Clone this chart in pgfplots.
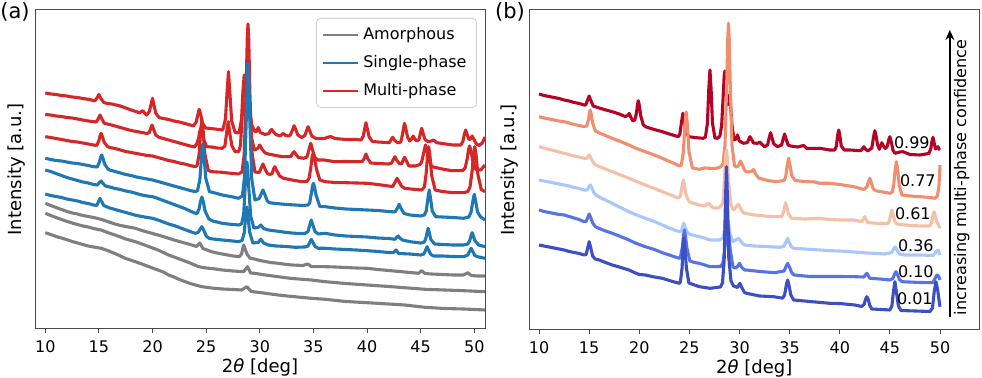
\documentclass[border=0pt]{standalone}
\usepackage{fontspec}
\setmainfont{DejaVu Sans}
\usepackage{pgfplots}
\pgfplotsset{compat=1.18}
\usetikzlibrary{arrows.meta}
\definecolor{cgray}{HTML}{7F7F7F}
\definecolor{cblue}{HTML}{1F77B4}
\definecolor{cred}{HTML}{D62728}
\definecolor{cwA}{RGB}{180,4,38}
\definecolor{cwB}{RGB}{240,142,112}
\definecolor{cwC}{RGB}{245,192,168}
\definecolor{cwD}{RGB}{170,199,253}
\definecolor{cwE}{RGB}{88,116,228}
\definecolor{cwF}{RGB}{61,80,195}
\pgfplotsset{
  xrdax/.style={
    scale only axis, width=225pt, ymin=0,
    ytick=\empty, xtick={10,15,...,50},
    tick align=outside, xtick pos=bottom, major tick length=2.2pt,
    axis line style={line width=0.5pt, color=black!70},
    every tick/.style={black!70, line width=0.5pt},
    /pgf/number format/assume math mode=true,
    tick label style={font=\fontsize{8}{9}\selectfont},
    label style={font=\fontsize{9}{10}\selectfont},
    xlabel={2\textit{θ} [deg]}, ylabel={Intensity [a.u.]},
    xlabel style={at={(axis description cs:0.5,0)}, anchor=center, yshift=-19pt},
    every axis plot/.append style={line width=1.55pt, line join=round, forget plot},
  }
}
\begin{document}
\begin{tikzpicture}[x=1pt,y=1pt]
\path[use as bounding box] (0,0) rectangle (491,189);
\node[font=\fontsize{10.5}{12}\selectfont] at (7.5,183) {(a)};
\node[font=\fontsize{10.5}{12}\selectfont] at (255,183) {(b)};
\begin{axis}[xrdax, at={(17.5pt,24.5pt)}, anchor=south west, height=159.5pt,
  xmin=9.04, xmax=51.0, ymax=319,
  ylabel style={at={(axis description cs:-0.041,0.5)}, anchor=center},
  legend style={at={(0.982,0.975)}, anchor=north east, draw=black!18, rounded corners=2pt,
    fill=white, font=\fontsize{8}{9}\selectfont, inner xsep=3pt, inner ysep=2.5pt, row sep=2.4pt},
  legend cell align=left,
  legend image code/.code={\draw[#1] (0pt,0pt) -- (17.5pt,0pt);}]
\addlegendimage{cgray, line width=0.9pt}
\addlegendentry{Amorphous}
\addlegendimage{cblue, line width=0.9pt}
\addlegendentry{Single-phase}
\addlegendimage{cred, line width=0.9pt}
\addlegendentry{Multi-phase}
% R1
\addplot[cred] coordinates {(10.0,236) (10.5,235) (11.0,234.5) (11.5,233.5) (12.0,233) (12.5,232) (13.0,231.5) (13.5,230.5) (14.0,229.7) (14.5,228.5) (14.6,228) (14.85,231.5) (15.0,234.5) (15.15,231) (15.45,226.5) (15.8,225.5) (16.2,225) (16.6,224) (17.0,223) (17.5,221) (18.0,219) (18.5,217.3) (18.8,216) (18.95,217.5) (19.1,218.3) (19.25,216) (19.45,214) (19.7,217.5) (19.87,225) (20.0,230.7) (20.13,224) (20.3,216) (20.6,211.5) (21.0,210.5) (21.5,209.5) (22.0,208) (22.5,207) (23.0,205.5) (23.5,204) (23.8,203) (24.05,206.5) (24.22,214) (24.35,219.7) (24.48,215) (24.65,206) (24.95,201) (25.3,200.6) (25.8,200) (26.3,199.3) (26.55,199) (26.8,210) (26.95,237) (27.08,257.3) (27.21,236) (27.38,208) (27.7,196.5) (28.0,196) (28.1,198) (28.3,210) (28.43,238) (28.55,254) (28.68,240) (28.78,228) (28.95,229) (29.08,218) (29.25,204) (29.55,197.5) (29.7,197.5) (29.85,201.5) (30.05,196.5) (30.5,194.5) (30.85,195.5) (31.0,198.5) (31.1,199.5) (31.25,197.5) (31.5,194.5) (31.9,193) (32.05,194.5) (32.2,195.5) (32.4,193.5) (32.7,193) (32.85,194) (33.05,199) (33.2,203.3) (33.35,199.5) (33.55,194) (33.9,191.5) (34.2,193.5) (34.37,198.5) (34.5,202.3) (34.63,199) (34.85,193) (35.2,190.7) (36.0,190.5) (36.6,192.5) (37.0,190.5) (38.0,189.5) (39.0,189.5) (39.45,189) (39.65,193) (39.78,200) (39.9,206.3) (40.03,200) (40.2,192) (40.5,187.5) (41.0,187) (41.8,186.5) (42.1,186.5) (42.25,189.5) (42.4,191.7) (42.55,189) (42.8,186.5) (43.0,186.3) (43.15,187) (43.3,194) (43.4,201) (43.5,205.7) (43.62,200) (43.78,192) (43.98,188) (44.15,190) (44.3,193) (44.45,190) (44.65,188) (44.85,189.5) (44.98,196) (45.1,200.7) (45.22,196) (45.4,189.5) (45.7,187.3) (46.0,188) (46.2,189) (46.5,186.3) (47.0,185.5) (48.0,184) (48.75,184) (48.95,188) (49.08,195) (49.2,199) (49.32,195) (49.5,189.5) (49.65,190) (49.8,193) (49.95,190) (50.2,185) (50.45,183.5) (50.75,186) (51.0,192)};
% R2
\addplot[cred] coordinates {(10.0,214.5) (10.5,214) (11.0,213) (11.5,212.5) (12.0,211.5) (12.5,211) (13.0,210) (13.5,209) (14.0,208) (14.5,207.3) (14.75,207) (14.95,210.5) (15.1,214) (15.25,210.5) (15.5,205.7) (16.0,204.5) (16.5,203) (17.0,201.5) (17.5,200) (18.0,198.5) (18.5,197.5) (19.0,196.5) (19.5,195.5) (19.7,196.5) (19.83,200.5) (19.95,204) (20.08,200) (20.3,194) (20.6,191.7) (21.0,190.5) (21.5,189) (22.0,187.5) (22.5,186) (23.0,184.5) (23.5,183) (23.9,182) (24.1,184.5) (24.3,191) (24.4,197.5) (24.5,200.7) (24.62,197) (24.78,189) (25.05,182.3) (25.5,182) (26.0,181) (26.5,180.7) (26.75,183) (26.92,197) (27.06,207.3) (27.2,196) (27.4,183) (27.7,177.3) (28.05,177.5) (28.2,184) (28.37,215) (28.5,240) (28.58,244) (28.68,236) (28.78,246) (28.85,254) (28.95,240) (29.08,212) (29.25,190) (29.5,179) (29.8,180.5) (30.0,184) (30.2,180) (30.5,176) (30.8,175) (31.5,173.5) (32.1,172.3) (32.9,172.5) (33.05,175.5) (33.2,177.3) (33.35,175) (33.6,171.5) (34.1,170.7) (34.4,172) (34.6,180) (34.75,185.7) (34.9,180) (35.1,172) (35.4,169) (36.0,169) (37.0,167.3) (38.0,167.5) (39.0,167.3) (39.55,167.5) (39.72,170) (39.9,175) (40.08,170) (40.35,166) (41.0,165.5) (42.0,165) (42.3,166) (42.45,169.5) (42.6,172.3) (42.75,169) (43.05,165) (43.25,165.5) (43.37,169) (43.5,171.7) (43.65,168.5) (43.9,163) (44.5,163) (44.95,164.5) (45.12,168) (45.3,177) (45.45,184) (45.6,177.5) (45.78,168) (46.05,162.3) (47.0,160) (47.9,158.3) (48.9,158.3) (49.15,161) (49.35,171) (49.47,179.5) (49.57,183) (49.7,178) (49.85,168.5) (50.15,159.5) (50.6,159) (51.0,164)};
% R3
\addplot[cred] coordinates {(10.0,192.3) (10.5,191.5) (11.0,190.5) (11.5,189.5) (12.0,188.5) (12.5,187.5) (13.0,187) (13.5,186) (14.0,185) (14.5,184) (14.8,183.5) (15.0,188.5) (15.1,193) (15.2,195.7) (15.32,192.5) (15.5,186.5) (15.8,182.5) (16.0,181.5) (16.5,180.5) (17.0,179) (17.5,177.5) (18.0,176.5) (18.5,175.5) (19.0,174.5) (19.5,173.5) (20.0,173) (20.5,171.5) (21.0,170) (21.5,168.5) (22.0,167.5) (22.5,166) (23.0,165) (23.5,163.5) (24.0,162.3) (24.15,163.5) (24.35,175) (24.48,198) (24.6,209) (24.72,198) (24.88,175) (25.2,158.5) (25.5,157.3) (26.0,157) (26.5,156.7) (27.0,156) (27.5,155.5) (28.0,155) (28.35,157) (28.55,175) (28.72,235) (28.83,290) (28.9,305) (28.97,290) (29.08,235) (29.25,178) (29.55,157) (29.95,156.5) (30.15,161.5) (30.3,165) (30.45,161) (30.7,155.5) (30.95,154.5) (31.15,155.5) (31.28,160) (31.4,162.3) (31.55,159) (31.85,153) (32.2,150.7) (33.0,149) (33.9,147.3) (34.4,147.5) (34.6,151) (34.78,163) (34.88,172) (34.98,175.7) (35.1,171) (35.28,160) (35.6,149) (36.1,147.3) (37.0,146.5) (38.0,146.3) (39.0,146) (40.0,145.7) (41.0,144.5) (42.0,143) (42.4,142.5) (42.6,146.5) (42.8,150.7) (42.95,148) (43.2,143) (43.5,140.7) (44.5,139.5) (45.1,139) (45.35,142) (45.52,156) (45.65,175) (45.75,182.3) (45.86,174) (46.02,154) (46.35,139) (47.0,137.5) (48.0,136.3) (49.0,136.3) (49.4,137.5) (49.6,142) (49.8,158) (49.93,175) (50.05,182.3) (50.17,174) (50.33,155) (50.65,139.5) (51.0,137.3)};
% B1
\addplot[cblue] coordinates {(10.0,170.7) (10.5,169.5) (11.0,168.5) (11.5,168) (12.0,167) (12.5,166) (13.0,165.5) (13.5,164.5) (14.0,163.5) (14.5,162.3) (14.85,162) (15.05,167) (15.15,171.5) (15.26,174) (15.38,170.5) (15.55,164.5) (15.85,160) (16.0,159) (16.5,157.5) (17.0,156) (17.5,154.5) (18.0,153.5) (18.5,152) (19.0,151) (19.5,150) (20.0,149) (20.5,147.5) (21.0,146) (21.5,144.5) (22.0,143) (22.5,141.5) (23.0,140) (23.5,138.5) (24.0,137.3) (24.2,138.5) (24.42,150) (24.56,172) (24.68,185) (24.8,173) (24.96,151) (25.3,137.5) (26.0,135.5) (26.5,134) (27.0,133) (27.5,132) (28.0,130.7) (28.38,133) (28.58,152) (28.74,210) (28.84,255) (28.9,266) (28.97,252) (29.08,205) (29.25,150) (29.55,129) (29.95,130.5) (30.15,135.5) (30.3,139) (30.45,135) (30.7,128) (30.9,126.3) (31.5,125.5) (32.5,124.5) (33.3,124) (34.0,123.5) (34.5,124) (34.65,126) (34.83,137) (34.92,143) (35.0,145.7) (35.1,142) (35.27,133) (35.6,122.5) (36.1,122.3) (37.0,121) (38.0,120) (39.0,119.5) (40.0,119) (41.0,118.5) (42.0,117.5) (42.6,117) (42.82,120.5) (43.0,124.7) (43.17,120.5) (43.45,115.5) (44.0,114) (45.0,113) (45.35,114) (45.52,118) (45.68,131) (45.8,139) (45.92,131) (46.08,118) (46.4,112.3) (47.0,112) (48.0,111.5) (49.0,110.7) (49.5,112) (49.7,117) (49.87,128) (50.0,134.7) (50.13,128) (50.3,117) (50.6,112) (51.0,109)};
% B2
\addplot[cblue] coordinates {(10.0,159) (10.5,157.5) (11.0,155.5) (11.5,153.5) (12.0,151.5) (12.5,150) (13.0,148.5) (13.5,147) (14.0,146) (14.5,144.5) (14.85,144) (15.05,146.5) (15.2,148) (15.35,146) (15.6,143) (16.0,142) (16.5,140.5) (17.0,139.5) (17.5,138) (18.0,137) (18.5,135.5) (19.0,134) (19.5,133) (20.0,132.3) (20.5,130.5) (21.0,128.5) (21.5,126.5) (22.0,124.5) (22.5,122.5) (23.0,120.5) (23.5,118) (24.0,115.7) (24.15,115.5) (24.35,120.5) (24.48,128) (24.6,132) (24.72,128) (24.9,118) (25.25,110) (25.6,108) (26.0,107) (26.5,105.7) (27.0,105) (27.5,104.5) (28.0,104) (28.3,105) (28.5,115) (28.65,145) (28.74,162) (28.8,167) (28.87,160) (28.98,140) (29.15,113) (29.45,101) (29.85,101.5) (30.1,104) (30.35,100.5) (30.8,99) (31.5,98) (32.5,96.5) (33.3,95.7) (34.2,95.5) (34.5,97.5) (34.67,104.5) (34.8,109) (34.93,104.5) (35.15,97.5) (35.45,95) (36.1,95.7) (37.0,94) (38.0,93) (39.0,92.5) (40.0,92) (41.0,91) (42.0,90.5) (42.6,89.7) (42.75,91.5) (42.9,93) (43.05,91) (43.3,89) (44.0,87.3) (45.0,86) (45.3,86.5) (45.47,90) (45.6,96.5) (45.7,100.7) (45.8,96.5) (45.95,89.5) (46.3,85) (47.0,84.5) (48.0,84) (49.0,84) (49.4,85) (49.58,88.5) (49.7,93.5) (49.8,96.3) (49.9,93.5) (50.05,88.5) (50.4,84) (51.0,82.3)};
% B3
\addplot[cblue] coordinates {(10.0,135) (10.5,133.5) (11.0,132.5) (11.5,131.5) (12.0,130) (12.5,129) (13.0,128) (13.5,126.5) (14.0,125.5) (14.5,124) (14.8,123.5) (14.97,127.5) (15.1,130.7) (15.23,128) (15.45,123.5) (15.7,122.3) (16.0,121) (16.5,119.5) (17.0,118) (17.5,116.5) (18.0,115) (18.5,113.5) (19.0,112.5) (19.5,111.5) (20.0,110.7) (20.5,109) (21.0,107) (21.5,105) (22.0,103.5) (22.5,101.5) (23.0,99.5) (23.5,97.5) (24.0,95.7) (24.25,96.5) (24.45,100) (24.6,102.3) (24.75,99.5) (25.0,93) (25.3,90.5) (26.0,89.5) (26.5,89) (27.0,88.5) (27.5,88) (28.0,87.3) (28.35,88.5) (28.55,96) (28.68,112) (28.8,122) (28.9,113) (29.05,97) (29.35,86) (29.85,86.5) (30.1,89.7) (30.35,86) (30.8,84) (31.5,83) (32.5,82.5) (33.3,81.7) (34.2,82) (34.5,83) (34.67,87) (34.8,89.7) (34.93,87) (35.15,82.5) (35.45,80.7) (36.1,80.7) (37.0,80) (38.0,79.5) (39.0,79) (40.0,78.3) (41.0,77.5) (42.0,76.5) (42.45,76.3) (42.7,79) (42.95,75.5) (44.0,75) (45.0,74) (45.3,75) (45.47,79) (45.6,82.3) (45.73,79) (45.95,74.5) (46.2,73) (47.0,73) (48.0,72.5) (49.0,72.3) (49.4,74) (49.57,78) (49.7,80.7) (49.83,78) (50.05,73.5) (50.3,72.3) (51.0,70.7)};
% G1
\addplot[cgray] coordinates {(10.0,125.7) (10.5,123.5) (11.0,121.5) (11.5,119.5) (12.1,117.3) (12.5,116) (13.0,115) (13.5,113.5) (14.0,112.5) (14.5,111.5) (15.2,109.7) (15.8,107.5) (16.5,105) (17.0,103.5) (17.5,102.5) (18.4,100.7) (19.0,98.5) (19.5,97) (20.0,95.5) (20.5,94) (21.0,92.5) (21.5,90.7) (22.0,89) (22.5,87.5) (23.0,86) (23.5,84.5) (24.1,82.5) (24.4,86) (24.7,80.5) (25.5,77.3) (26.0,76) (26.5,75) (27.0,74) (27.5,73) (28.1,72.3) (28.3,75) (28.42,81) (28.5,84) (28.6,81) (28.8,75) (29.1,70.7) (29.5,70) (30.0,68.5) (30.5,67.5) (31.0,66.5) (31.7,65.7) (32.5,64.5) (33.0,64) (34.0,63.5) (34.5,65) (34.8,62.3) (36.1,62.3) (37.0,62) (38.0,61.5) (39.0,61) (40.0,60.7) (41.0,59.5) (42.0,58.5) (43.0,57.5) (44.0,56.5) (44.8,55.7) (45.1,58.3) (45.4,55.5) (46.0,55) (47.0,54.5) (48.0,54) (49.0,54) (49.4,56.3) (49.7,53.5) (50.3,53) (51.0,53)};
% G2
\addplot[cgray] coordinates {(10.0,115.7) (10.5,113.5) (11.0,111.5) (11.5,109.5) (12.1,107.3) (12.5,106) (13.0,104.5) (13.5,103) (14.0,102) (14.5,100.5) (15.2,99) (15.8,96.5) (16.5,94) (17.0,92) (17.5,90) (18.4,87.3) (19.0,85) (19.5,83) (20.0,81) (20.5,79) (21.0,76.5) (21.5,74) (22.0,72) (22.5,70) (23.0,68) (23.5,66) (24.3,62.3) (25.0,61) (25.5,60.5) (26.5,59) (27.5,58) (28.5,57.3) (28.85,62.3) (29.15,56) (29.5,55.7) (30.5,54) (31.7,52.3) (33.0,50.5) (34.8,49) (36.1,47.3) (38.0,45.5) (40.0,44) (42.0,42.5) (43.5,41.3) (45.4,39.7) (47.2,39) (49.0,38.3) (51.0,37.3)};
% G3
\addplot[cgray] coordinates {(10.0,96.3) (10.5,94.5) (11.0,92.5) (11.5,91) (12.1,89) (12.5,87.5) (13.0,86) (13.5,84.5) (14.0,83) (14.5,82) (15.2,80.7) (15.8,78.5) (16.5,75.5) (17.0,73) (17.5,70.5) (18.4,67.3) (19.0,65) (19.5,63) (20.0,61) (20.5,59) (21.0,57) (21.5,54) (22.0,52) (22.5,49.5) (23.0,47.5) (23.5,45.5) (24.0,44) (24.6,42.3) (25.5,41) (26.5,40) (27.5,39.5) (28.3,39) (28.8,42.3) (29.2,37.5) (30.0,36.5) (31.7,34) (33.0,32.5) (34.8,30.7) (36.1,29.7) (38.0,27.5) (40.0,26.3) (42.0,25) (43.5,24) (45.4,21.7) (47.2,20.5) (49.0,20) (51.0,19)};
\end{axis}

\begin{axis}[xrdax, at={(264.65pt,24pt)}, anchor=south west, height=160pt,
  xmin=9.03, xmax=53.92, ymax=320,
  ylabel style={at={(axis description cs:-0.043,0.5)}, anchor=center}]
% 0.99
\addplot[cwA] coordinates {(10.0,236) (10.5,234.5) (11.0,233.5) (11.5,232.5) (12.0,231.5) (12.5,230) (13.0,229) (13.5,227.5) (14.0,226.5) (14.5,225) (14.65,225) (14.85,230) (15.0,234) (15.15,230) (15.4,224) (15.7,223) (16.0,222) (16.5,220.5) (17.3,218.3) (18.0,216) (18.6,213.5) (18.85,214.5) (19.0,216.5) (19.15,213) (19.35,209) (19.55,210) (19.72,217) (19.82,225) (19.9,229.3) (20.0,225) (20.15,214) (20.4,205) (20.7,203) (21.0,202) (21.5,200.5) (22.3,198.3) (23.0,196) (23.5,194.5) (23.9,193.3) (24.05,196) (24.2,207) (24.35,216.7) (24.48,210) (24.65,198) (24.95,193.3) (25.5,192.5) (26.0,192) (26.4,191.7) (26.6,193) (26.8,207) (26.93,240) (27.05,260) (27.17,240) (27.3,207) (27.55,192) (27.8,191.7) (28.05,194) (28.22,205) (28.38,235) (28.47,254) (28.54,259) (28.63,252) (28.77,225) (28.88,228) (29.0,235) (29.1,225) (29.25,205) (29.45,190) (29.65,191) (29.8,195) (29.98,189) (30.4,186.7) (30.8,187.5) (30.93,191) (31.04,193.3) (31.17,191) (31.4,187) (31.7,186.7) (31.9,187) (32.0,188) (32.15,186.5) (32.5,183.3) (32.8,185) (32.97,192.5) (33.1,197.3) (33.23,192.5) (33.42,186) (33.8,183.3) (34.2,185) (34.37,191.5) (34.5,196) (34.63,191.5) (34.85,185) (35.1,184) (35.8,183) (36.4,184.5) (36.7,181.7) (37.5,181.5) (38.0,181.7) (39.0,180) (39.5,180) (39.65,183.5) (39.8,195) (39.9,200) (40.0,195) (40.15,184) (40.45,180) (41.0,180) (42.1,179.3) (42.25,181) (42.4,183.3) (42.55,181) (42.8,179) (43.2,182) (43.37,193) (43.5,199.3) (43.62,194) (43.78,185) (43.95,180.7) (44.08,184) (44.2,187.3) (44.35,184) (44.55,181.5) (44.75,184) (44.88,190) (45.0,193.3) (45.12,189) (45.3,180) (45.5,176.7) (46.0,178) (46.3,178.3) (47.0,175.5) (48.0,175) (48.9,176.5) (49.1,182) (49.2,189) (49.3,192.7) (49.4,188) (49.55,181) (49.68,182) (49.8,183.3) (49.9,181) (50.0,180)};
% 0.77
\addplot[cwB] coordinates {(10.0,213.3) (10.5,212) (11.0,211) (11.5,210) (12.0,209) (12.5,208.3) (13.0,207) (13.5,205.5) (14.0,204.5) (14.5,203.3) (14.75,204) (14.93,210) (15.02,216.5) (15.1,220) (15.2,216) (15.35,207) (15.6,199.5) (16.0,197) (16.5,195) (17.3,191.7) (18.0,189) (18.97,185) (19.5,182.5) (20.0,180.5) (20.6,178.3) (21.5,175) (22.3,171.7) (23.0,168.5) (23.5,166.5) (24.0,164) (24.2,165) (24.4,178) (24.55,205) (24.68,218) (24.8,205) (24.96,178) (25.3,162) (26.0,160.7) (26.5,162) (27.05,161.7) (27.6,161.5) (28.1,163) (28.35,166) (28.55,185) (28.72,245) (28.83,292) (28.9,306.7) (28.97,292) (29.08,245) (29.25,185) (29.5,164) (29.75,163) (29.92,165) (30.1,169) (30.28,165) (30.55,159) (30.85,158) (31.2,158.5) (31.4,160.5) (31.6,156) (31.9,152) (32.8,149.5) (33.7,148.3) (34.45,149.5) (34.6,153) (34.77,165) (34.9,171.7) (35.03,165) (35.22,154) (35.55,149.5) (36.0,149) (36.7,148.3) (37.5,148) (38.0,146.7) (39.0,146.7) (40.0,145.5) (41.4,143.3) (42.4,140.5) (42.7,143) (42.87,148.5) (43.0,151.7) (43.13,148) (43.35,141) (43.6,139.3) (44.3,138) (45.0,136.7) (45.25,138) (45.38,145) (45.52,160) (45.65,168.3) (45.78,160) (45.93,145) (46.2,135) (47.0,134) (48.0,133.3) (49.0,132.5) (49.5,131.7) (49.75,134) (49.9,145) (50.0,165)};
% 0.61
\addplot[cwC] coordinates {(10.0,183.3) (10.5,182) (11.0,180.5) (11.5,179.5) (12.0,178) (12.5,176.7) (13.0,175.5) (13.5,174) (14.0,173) (14.5,171.7) (14.75,171.5) (14.9,173.5) (15.0,175) (15.15,172.5) (15.4,167.5) (15.65,165) (16.0,163.5) (16.5,161.5) (17.3,158.3) (18.0,155.5) (18.97,151.7) (19.5,149.5) (20.0,147.5) (20.6,145) (21.5,141.5) (22.3,138.3) (23.0,135.5) (23.5,133.5) (23.9,132) (24.1,134) (24.27,143.5) (24.4,150) (24.52,144) (24.7,134) (25.0,128) (25.5,126.5) (26.0,125) (26.5,124) (26.9,126.7) (27.4,122) (27.9,122) (28.15,124) (28.35,128) (28.52,155) (28.62,174) (28.7,180) (28.78,172) (28.92,148) (29.15,125) (29.4,120) (29.9,125.7) (30.3,118) (30.5,116.7) (31.5,115) (32.5,114) (33.4,113.3) (34.2,113.3) (34.42,118.5) (34.52,124) (34.6,127.3) (34.7,124) (34.88,116) (35.2,111.7) (36.5,111) (38.0,111.7) (39.0,110.5) (40.0,110) (41.4,110) (42.2,108.3) (42.5,113.3) (42.8,107.3) (44.0,106.5) (44.8,106.5) (44.97,109.5) (45.1,116.5) (45.2,120) (45.3,116) (45.48,109) (45.7,106) (46.5,105) (48.0,104) (49.0,104) (49.18,108) (49.3,115) (49.4,118.3) (49.5,115) (49.65,109) (49.85,105) (50.0,101.7)};
% 0.36
\addplot[cwD] coordinates {(10.0,150) (10.5,149) (11.0,148) (11.5,147) (12.0,146) (12.5,145) (13.0,144) (13.5,142.5) (14.0,141.5) (14.5,140) (14.8,140) (14.97,143) (15.1,145) (15.25,142.5) (15.5,137) (15.75,134.5) (16.0,133) (16.5,130.5) (17.3,126.7) (18.0,123) (18.97,118.3) (19.5,116) (20.0,114) (20.6,111.7) (21.5,108.5) (22.3,105) (23.0,102) (23.5,100) (24.0,98.3) (24.2,99) (24.33,103.5) (24.45,106.7) (24.58,103) (24.8,97.5) (25.1,95.5) (25.5,94.5) (26.0,93.3) (26.5,92) (27.05,90) (28.0,90) (28.3,91.5) (28.45,96) (28.6,109) (28.75,117) (28.88,109) (29.05,96) (29.35,88.5) (29.9,91.7) (30.3,86.5) (30.5,85) (31.5,84) (32.5,83.5) (34.0,82.7) (34.4,83.5) (34.6,87) (34.8,91.7) (34.98,87) (35.2,83) (35.4,81.7) (36.5,81) (38.0,80) (39.0,79.3) (40.0,79) (42.3,77.3) (44.5,76) (45.2,77.5) (45.4,81.5) (45.55,83) (45.7,80) (45.95,76) (46.5,75) (48.0,75) (49.3,74.5) (49.6,78) (49.8,80) (50.0,75)};
% 0.10
\addplot[cwE] coordinates {(10.0,120) (10.5,118.5) (11.0,117.5) (11.5,116.5) (12.0,115.5) (12.5,115) (13.0,113.5) (13.5,112) (14.0,110.5) (14.5,108.3) (14.7,108.5) (14.88,113) (15.0,116) (15.14,113) (15.35,107) (15.6,103.5) (16.0,101.5) (16.5,99.5) (17.3,96.7) (18.0,94) (18.97,90) (19.5,87.5) (20.0,85.5) (20.6,83.3) (21.5,80.5) (22.3,77.3) (23.0,75) (23.5,73.3) (24.0,71.7) (24.1,72.5) (24.3,83) (24.42,95) (24.5,100) (24.6,95) (24.75,82) (25.05,69) (25.5,67.5) (26.0,66.7) (27.05,63.3) (28.1,63.5) (28.35,67) (28.52,80) (28.68,99) (28.8,105) (28.92,98) (29.08,80) (29.35,63) (29.6,62) (29.85,64) (30.0,66.7) (30.2,63) (30.5,60) (30.7,60) (32.0,58.5) (33.5,57.3) (34.45,59) (34.62,63) (34.8,66.7) (34.98,63) (35.2,57.5) (35.45,55) (37.0,53.5) (39.0,53.5) (40.0,53.5) (41.5,53.3) (42.4,53) (42.7,56.7) (43.0,51.7) (44.0,51) (45.0,50) (45.3,51.5) (45.47,56) (45.6,58.3) (45.73,56) (45.95,50.5) (46.2,48.3) (48.0,47.5) (49.3,47.3) (49.5,51.5) (49.7,55) (49.85,54) (50.0,50)};
% 0.01
\addplot[cwF] coordinates {(10.0,85) (10.5,84) (11.0,83) (11.5,82) (12.0,81) (12.5,80) (13.0,78.5) (13.5,77.5) (14.0,76.5) (14.5,75) (14.7,75.5) (14.88,83) (15.0,88.3) (15.13,83.5) (15.35,74) (15.6,71) (16.0,70) (16.5,68) (17.3,65) (18.0,63) (18.97,60) (19.5,57.5) (20.0,55.5) (20.6,55) (21.5,53) (22.3,51.7) (23.0,49.5) (23.5,48) (24.0,46.7) (24.1,48) (24.27,62) (24.37,84) (24.45,92.3) (24.55,84) (24.7,62) (24.95,47) (25.5,45) (26.0,43.3) (27.05,41.7) (28.1,43) (28.3,47) (28.47,70) (28.6,130) (28.7,163.3) (28.8,130) (28.93,72) (29.15,49) (29.4,44) (29.8,42.5) (30.04,46.7) (30.25,42) (30.5,37.5) (30.7,36.7) (32.0,34) (33.4,33.3) (34.3,31.8) (34.5,35) (34.67,45) (34.8,50) (34.93,45) (35.12,35) (35.4,30) (37.0,28.5) (39.0,26.7) (40.0,26.5) (41.5,25) (42.2,23.5) (42.45,26) (42.58,31) (42.7,33.3) (42.83,31) (43.0,24.5) (43.2,21) (45.0,20) (45.2,24) (45.35,38) (45.5,48.3) (45.65,38) (45.85,24) (46.1,19.5) (47.5,19) (49.0,18.5) (49.25,22) (49.42,38) (49.6,48.3) (49.77,40) (49.9,30) (50.0,23.3)};
\node[font=\fontsize{8}{9}\selectfont] at (axis cs:47.19,187) {0.99};
\node[font=\fontsize{8}{9}\selectfont] at (axis cs:47.79,149) {0.77};
\node[font=\fontsize{8}{9}\selectfont] at (axis cs:47.29,116) {0.61};
\node[font=\fontsize{8}{9}\selectfont] at (axis cs:47.59,84) {0.36};
\node[font=\fontsize{8}{9}\selectfont] at (axis cs:47.59,58) {0.10};
\node[font=\fontsize{8}{9}\selectfont] at (axis cs:47.49,31) {0.01};
\draw[-{Stealth[length=5pt,width=4.5pt]}, line width=1.1pt] (axis cs:50.98,13.3) -- (axis cs:50.98,300);
\node[rotate=90, font=\fontsize{8}{9}\selectfont] at (axis cs:52.17,152.5) {increasing multi-phase confidence};
\end{axis}
\end{tikzpicture}
\end{document}
